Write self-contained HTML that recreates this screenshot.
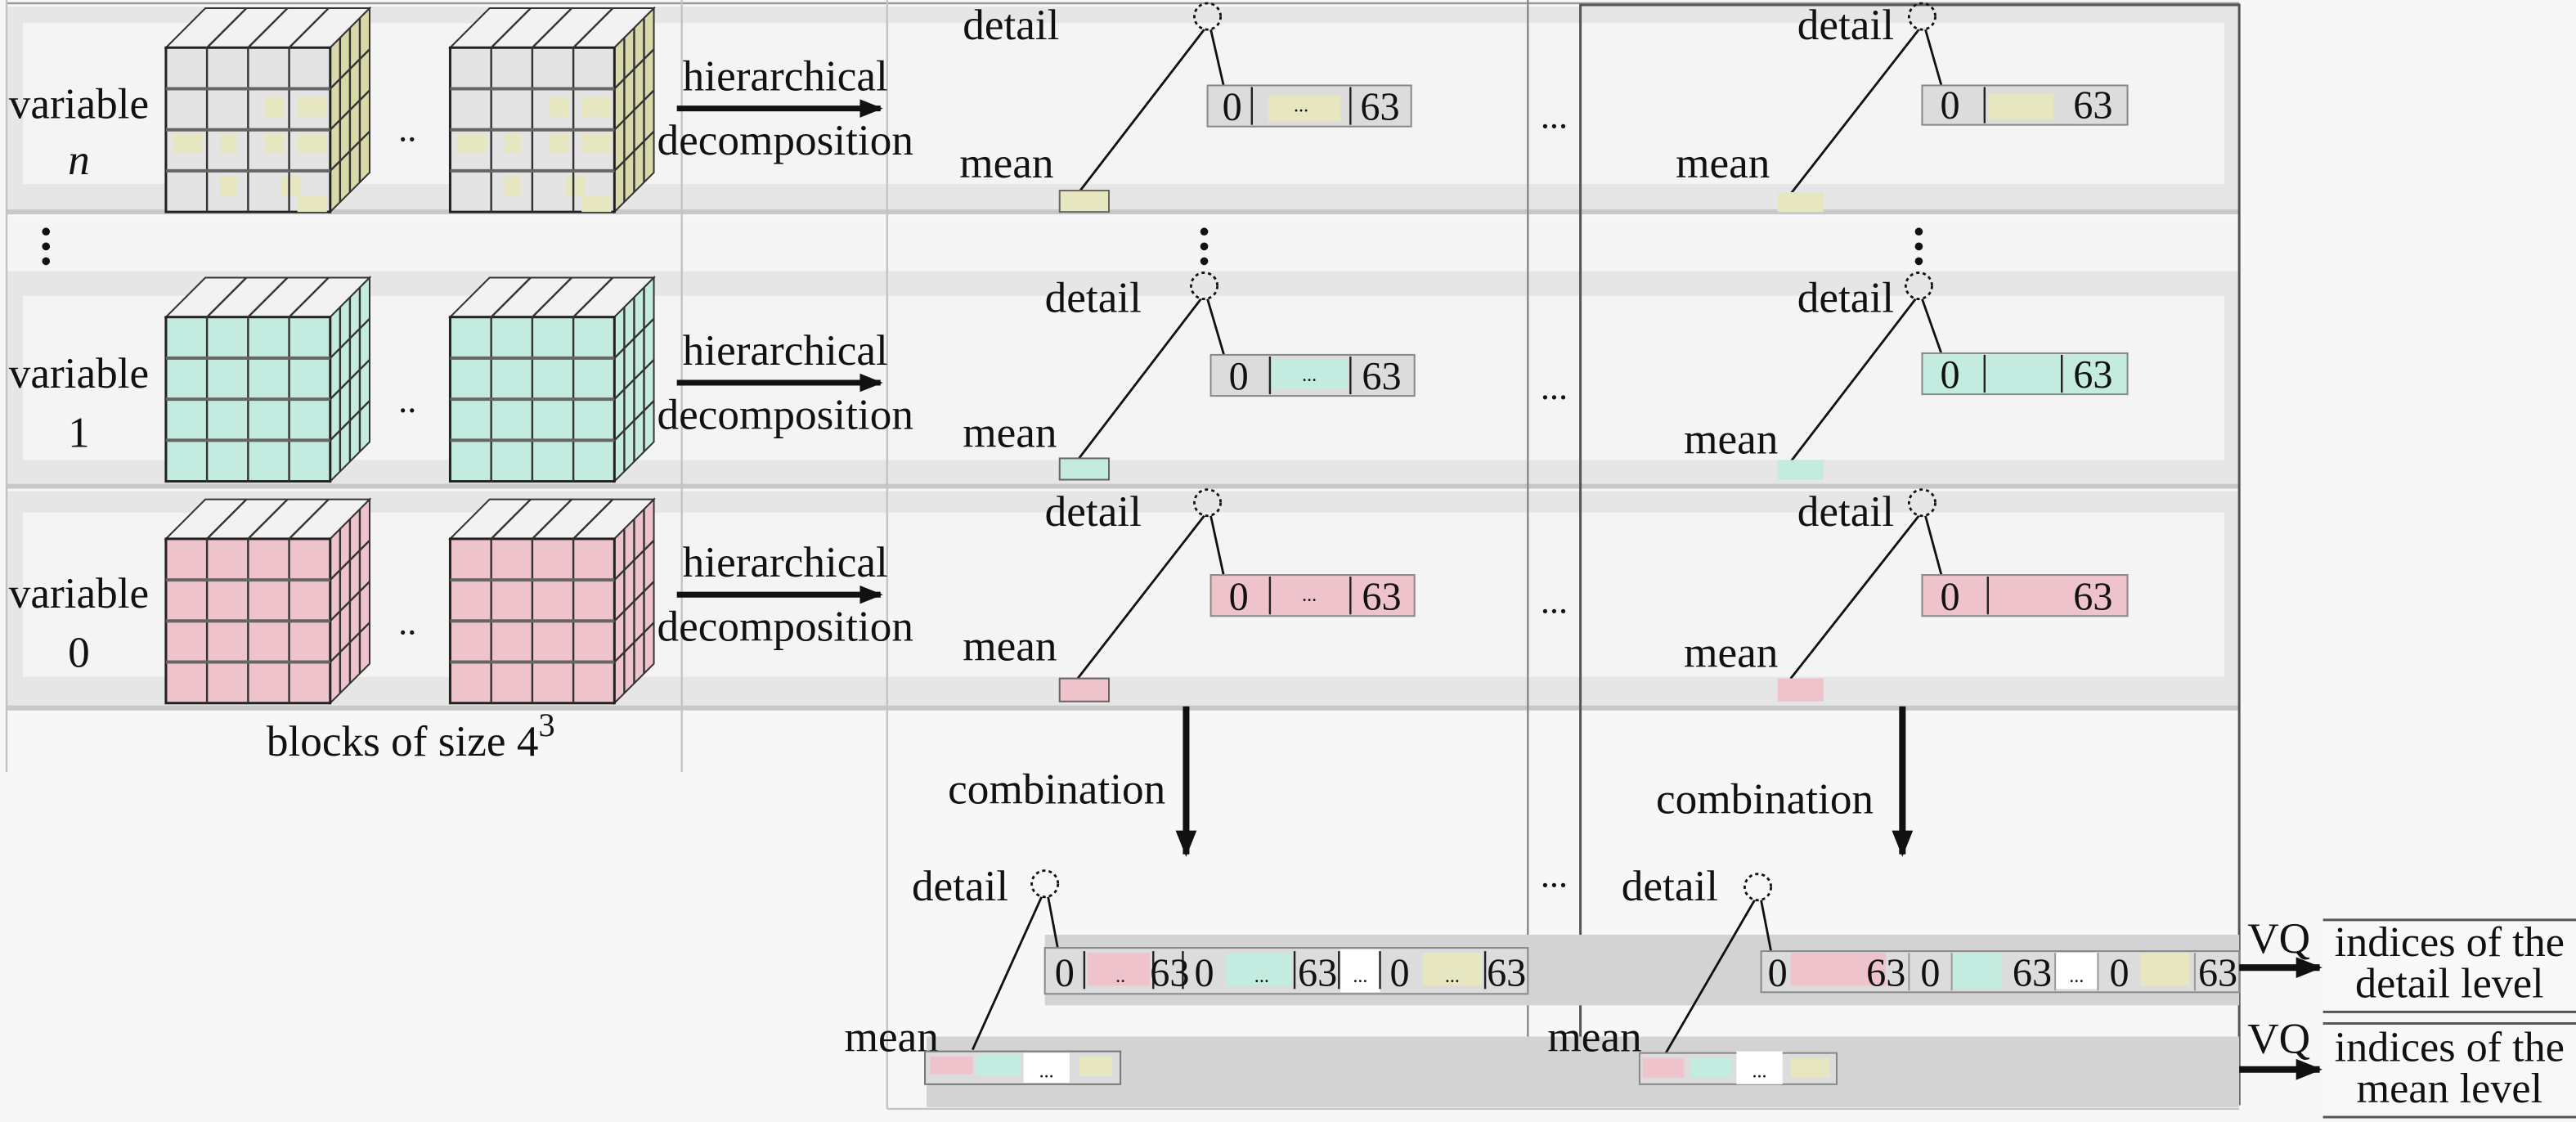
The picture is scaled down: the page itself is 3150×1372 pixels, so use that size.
<!DOCTYPE html>
<html><head><meta charset="utf-8"><style>
html,body{margin:0;padding:0;background:#f7f7f7}
svg{display:block}
text{font-family:"Liberation Serif",serif;fill:#111}
</style></head><body>
<svg width="3150" height="1372" viewBox="0 0 1568 683" preserveAspectRatio="none" xmlns="http://www.w3.org/2000/svg">
<defs>
<marker id="ah" viewBox="0 0 10 10" refX="9" refY="5" markerWidth="4" markerHeight="4" orient="auto"><path d="M0,1 L10,5 L0,9 z" fill="#111"/></marker>
<symbol id="cubeC" overflow="visible">
 <polygon points="0,0 24,-24 124,-24 100,0" fill="#f2f2f2" stroke="#333" stroke-width="1"/>
 <polygon points="100,0 124,-24 124,76 100,100" fill="currentColor" stroke="#333" stroke-width="1"/>
 <rect x="0" y="0" width="100" height="100" fill="currentColor" stroke="#222" stroke-width="1.5"/>
 <g stroke="#333" stroke-width="1.2" fill="none">
  <line x1="25" y1="0" x2="25" y2="100"/><line x1="50" y1="0" x2="50" y2="100"/><line x1="75" y1="0" x2="75" y2="100"/>
  <line x1="0" y1="25" x2="100" y2="25" stroke="#666" stroke-width="2"/><line x1="0" y1="50" x2="100" y2="50" stroke="#666" stroke-width="2"/><line x1="0" y1="75" x2="100" y2="75" stroke="#666" stroke-width="2"/>
  <line x1="25" y1="0" x2="49" y2="-24"/><line x1="50" y1="0" x2="74" y2="-24"/><line x1="75" y1="0" x2="99" y2="-24"/>
  <line x1="106" y1="-6" x2="106" y2="94"/><line x1="112" y1="-12" x2="112" y2="88"/><line x1="118" y1="-18" x2="118" y2="82"/>
  <line x1="100" y1="25" x2="124" y2="1"/><line x1="100" y1="50" x2="124" y2="26"/><line x1="100" y1="75" x2="124" y2="51"/>
 </g>
</symbol>
<symbol id="cubeN" overflow="visible">
 <polygon points="0,0 24,-24 124,-24 100,0" fill="#f2f2f2" stroke="#333" stroke-width="1"/>
 <polygon points="100,0 124,-24 124,76 100,100" fill="#d8d8a8" stroke="#333" stroke-width="1"/>
 <rect x="0" y="0" width="100" height="100" fill="#e4e4e4" stroke="#222" stroke-width="1.5"/>
 <g fill="#e6e6c0"><rect x="60" y="30" width="12" height="12"/><rect x="80" y="30" width="18" height="12"/><rect x="4" y="52" width="18" height="12"/><rect x="33" y="52" width="10" height="12"/><rect x="60" y="52" width="12" height="12"/><rect x="80" y="52" width="18" height="12"/><rect x="33" y="78" width="10" height="12"/><rect x="70" y="78" width="12" height="12"/><rect x="80" y="90" width="18" height="10"/></g>
 <g stroke="#333" stroke-width="1.2" fill="none">
  <line x1="25" y1="0" x2="25" y2="100"/><line x1="50" y1="0" x2="50" y2="100"/><line x1="75" y1="0" x2="75" y2="100"/>
  <line x1="0" y1="25" x2="100" y2="25" stroke="#666" stroke-width="2"/><line x1="0" y1="50" x2="100" y2="50" stroke="#666" stroke-width="2"/><line x1="0" y1="75" x2="100" y2="75" stroke="#666" stroke-width="2"/>
  <line x1="25" y1="0" x2="49" y2="-24"/><line x1="50" y1="0" x2="74" y2="-24"/><line x1="75" y1="0" x2="99" y2="-24"/>
  <line x1="106" y1="-6" x2="106" y2="94"/><line x1="112" y1="-12" x2="112" y2="88"/><line x1="118" y1="-18" x2="118" y2="82"/>
  <line x1="100" y1="25" x2="124" y2="1"/><line x1="100" y1="50" x2="124" y2="26"/><line x1="100" y1="75" x2="124" y2="51"/>
 </g>
</symbol>
</defs>

<rect x="0" y="0" width="1568" height="683" fill="#f7f7f7"/>

<g>
 <rect x="4" y="4" width="1359" height="126" fill="#e6e6e6"/>
 <rect x="14" y="14" width="1340" height="98" fill="#f4f4f4"/>
 <line x1="4" y1="129" x2="1363" y2="129" stroke="#c8c8c8" stroke-width="3"/>
 <rect x="4" y="132" width="1359" height="33" fill="#f5f5f5"/>
 <rect x="4" y="165" width="1359" height="130" fill="#e6e6e6"/>
 <rect x="14" y="180" width="1340" height="100" fill="#f4f4f4"/>
 <line x1="4" y1="296" x2="1363" y2="296" stroke="#c8c8c8" stroke-width="3"/>
 <rect x="4" y="299" width="1359" height="131" fill="#e6e6e6"/>
 <rect x="14" y="312" width="1340" height="100" fill="#f4f4f4"/>
 <line x1="4" y1="431" x2="1363" y2="431" stroke="#c8c8c8" stroke-width="3"/>
</g>

<g stroke="#c4c4c4" stroke-width="1.2">
 <line x1="4" y1="2" x2="1363" y2="2" stroke="#999"/>
 <line x1="4" y1="0" x2="4" y2="470"/>
 <line x1="415" y1="0" x2="415" y2="470"/>
 <line x1="540" y1="0" x2="540" y2="675"/>
 <line x1="540" y1="675" x2="1363" y2="675"/>
</g>
<line x1="930" y1="0" x2="930" y2="672" stroke="#888" stroke-width="1.2"/>
<rect x="962" y="3" width="401" height="669" fill="none" stroke="#555" stroke-width="1.5"/>

<g font-size="26.5" text-anchor="middle">
 <text x="48" y="72">variable</text><text x="48" y="106" font-style="italic">n</text>
 <text x="48" y="236">variable</text><text x="48" y="272">1</text>
 <text x="48" y="370">variable</text><text x="48" y="406">0</text>
 <text x="250" y="460">blocks of size 4<tspan font-size="20" dy="-12">3</tspan></text>
</g>
<g fill="#111">
 <circle cx="28" cy="141" r="2.4"/><circle cx="28" cy="150" r="2.4"/><circle cx="28" cy="159" r="2.4"/>
 <circle cx="733" cy="141" r="2.4"/><circle cx="733" cy="150" r="2.4"/><circle cx="733" cy="159" r="2.4"/>
 <circle cx="1168" cy="141" r="2.4"/><circle cx="1168" cy="150" r="2.4"/><circle cx="1168" cy="159" r="2.4"/>
</g>

<use href="#cubeN" x="101" y="29"/><use href="#cubeN" x="274" y="29"/>
<use href="#cubeC" x="101" y="193" style="color:#c4ebdf"/><use href="#cubeC" x="274" y="193" style="color:#c4ebdf"/>
<use href="#cubeC" x="101" y="328" style="color:#efc3cc"/><use href="#cubeC" x="274" y="328" style="color:#efc3cc"/>
<g font-size="22" text-anchor="middle">
 <text x="248" y="86">..</text><text x="248" y="251">..</text><text x="248" y="386">..</text>
</g>

<g font-size="26.5" text-anchor="middle">
 <text x="478" y="55">hierarchical</text><text x="478" y="94">decomposition</text>
 <text x="478" y="222">hierarchical</text><text x="478" y="261">decomposition</text>
 <text x="478" y="351">hierarchical</text><text x="478" y="390">decomposition</text>
</g>
<g stroke="#111" stroke-width="3.5" marker-end="url(#ah)">
 <line x1="412" y1="66" x2="536" y2="66"/>
 <line x1="412" y1="233" x2="536" y2="233"/>
 <line x1="412" y1="362" x2="536" y2="362"/>
</g>

<g font-size="22" text-anchor="middle">
 <text x="946" y="78">...</text><text x="946" y="243">...</text><text x="946" y="373">...</text><text x="946" y="540">...</text>
</g>

<g font-size="26.5">
 <text x="586" y="24">detail</text><text x="584" y="108">mean</text>
 <text x="636" y="190">detail</text><text x="586" y="272">mean</text>
 <text x="636" y="320">detail</text><text x="586" y="402">mean</text>
 <text x="1094" y="24">detail</text><text x="1020" y="108">mean</text>
 <text x="1094" y="190">detail</text><text x="1025" y="276">mean</text>
 <text x="1094" y="320">detail</text><text x="1025" y="406">mean</text>
</g>
<g fill="none" stroke="#111" stroke-width="1.4">
 <circle cx="735" cy="10" r="8" stroke-dasharray="2,2"/><line x1="733" y1="18" x2="656" y2="118"/><line x1="737" y1="18" x2="745" y2="53"/>
 <circle cx="733" cy="174" r="8" stroke-dasharray="2,2"/><line x1="731" y1="182" x2="656" y2="280"/><line x1="735" y1="182" x2="745" y2="216"/>
 <circle cx="735" cy="306" r="8" stroke-dasharray="2,2"/><line x1="733" y1="314" x2="656" y2="413"/><line x1="737" y1="314" x2="745" y2="351"/>
 <circle cx="1170" cy="10" r="8" stroke-dasharray="2,2"/><line x1="1168" y1="18" x2="1090" y2="118"/><line x1="1172" y1="18" x2="1182" y2="53"/>
 <circle cx="1168" cy="174" r="8" stroke-dasharray="2,2"/><line x1="1166" y1="182" x2="1090" y2="281"/><line x1="1170" y1="182" x2="1182" y2="216"/>
 <circle cx="1170" cy="306" r="8" stroke-dasharray="2,2"/><line x1="1168" y1="314" x2="1090" y2="413"/><line x1="1172" y1="314" x2="1182" y2="351"/>
</g>
<g stroke="#666" stroke-width="1">
 <rect x="645" y="116" width="30" height="13" fill="#e6e6c0"/>
 <rect x="645" y="279" width="30" height="13" fill="#c4ebdf"/>
 <rect x="645" y="413" width="30" height="14" fill="#efc3cc"/>
 <rect x="1082" y="117" width="28" height="12" fill="#e6e6c0" stroke="none"/>
 <rect x="1082" y="280" width="28" height="12" fill="#c4ebdf" stroke="none"/>
 <rect x="1082" y="413" width="28" height="14" fill="#efc3cc" stroke="none"/>
</g>
<g>
 <rect x="735" y="52" width="124" height="25" fill="#dcdcdc" stroke="#888"/>
 <rect x="737" y="216" width="124" height="25" fill="#dcdcdc" stroke="#888"/>
 <rect x="737" y="350" width="124" height="25" fill="#efc3cc" stroke="#888"/>
 <rect x="1170" y="52" width="125" height="24" fill="#dcdcdc" stroke="#888"/>
 <rect x="1170" y="215" width="125" height="25" fill="#c4ebdf" stroke="#888"/>
 <rect x="1170" y="350" width="125" height="25" fill="#efc3cc" stroke="#888"/>
 <rect x="772" y="58" width="44" height="16" fill="#e6e6c0"/>
 <rect x="772" y="219" width="48" height="18" fill="#c4ebdf"/>
 <rect x="1210" y="57" width="40" height="16" fill="#e6e6c0"/>
</g>
<g stroke="#222" stroke-width="1.2">
 <line x1="762" y1="53" x2="762" y2="76"/><line x1="822" y1="53" x2="822" y2="76"/>
 <line x1="773" y1="217" x2="773" y2="240"/><line x1="822" y1="217" x2="822" y2="240"/>
 <line x1="773" y1="351" x2="773" y2="374"/><line x1="822" y1="351" x2="822" y2="374"/>
 <line x1="1208" y1="53" x2="1208" y2="75"/>
 <line x1="1208" y1="216" x2="1208" y2="239"/><line x1="1255" y1="216" x2="1255" y2="239"/>
 <line x1="1210" y1="351" x2="1210" y2="374"/>
</g>
<g font-size="24" text-anchor="middle">
 <text x="750" y="73">0</text><text x="792" y="68" font-size="12">...</text><text x="840" y="73">63</text>
 <text x="754" y="237">0</text><text x="797" y="232" font-size="12">...</text><text x="841" y="237">63</text>
 <text x="754" y="371">0</text><text x="797" y="366" font-size="12">...</text><text x="841" y="371">63</text>
 <text x="1187" y="72">0</text><text x="1274" y="72">63</text>
 <text x="1187" y="236">0</text><text x="1274" y="236">63</text>
 <text x="1187" y="371">0</text><text x="1274" y="371">63</text>
</g>

<g stroke="#111" stroke-width="4" marker-end="url(#ah)">
 <line x1="722" y1="430" x2="722" y2="520"/>
 <line x1="1158" y1="430" x2="1158" y2="520"/>
</g>
<g font-size="26.5">
 <text x="577" y="489">combination</text>
 <text x="1008" y="495">combination</text>
</g>

<rect x="636" y="569" width="727" height="43" fill="#d3d3d3"/>
<rect x="564" y="631" width="799" height="43" fill="#d3d3d3"/>

<g font-size="26.5">
 <text x="555" y="548">detail</text><text x="514" y="640">mean</text>
 <text x="987" y="548">detail</text><text x="942" y="640">mean</text>
</g>
<g fill="none" stroke="#111" stroke-width="1.4">
 <circle cx="636" cy="538" r="8" stroke-dasharray="2,2"/><line x1="634" y1="546" x2="592" y2="639"/><line x1="638" y1="546" x2="644" y2="578"/>
 <circle cx="1070" cy="540" r="8" stroke-dasharray="2,2"/><line x1="1068" y1="548" x2="1014" y2="641"/><line x1="1072" y1="548" x2="1078" y2="579"/>
</g>
<g>
 <rect x="636" y="577" width="294" height="28" fill="#dcdcdc" stroke="#888"/>
 <rect x="662" y="580" width="38" height="20" fill="#efc3cc"/>
 <rect x="746" y="580" width="40" height="20" fill="#c4ebdf"/>
 <rect x="816" y="578" width="24" height="26" fill="#ffffff"/>
 <rect x="866" y="580" width="36" height="20" fill="#e6e6c0"/>
 <rect x="1072" y="579" width="291" height="25" fill="#dcdcdc" stroke="#888"/>
 <rect x="1090" y="580" width="58" height="20" fill="#efc3cc"/>
 <rect x="1188" y="580" width="30" height="22" fill="#c4ebdf"/>
 <rect x="1251" y="580" width="26" height="22" fill="#ffffff"/>
 <rect x="1303" y="580" width="30" height="20" fill="#e6e6c0"/>
</g>
<g stroke="#222" stroke-width="1.2">
 <line x1="660" y1="579" x2="660" y2="602"/><line x1="702" y1="579" x2="702" y2="602"/><line x1="720" y1="579" x2="720" y2="602"/>
 <line x1="788" y1="579" x2="788" y2="602"/><line x1="815" y1="579" x2="815" y2="602"/><line x1="840" y1="579" x2="840" y2="602"/>
 <line x1="904" y1="579" x2="904" y2="602"/>
</g>
<g stroke="#999" stroke-width="1">
 <line x1="1162" y1="580" x2="1162" y2="603"/><line x1="1188" y1="580" x2="1188" y2="603"/><line x1="1251" y1="580" x2="1251" y2="603"/><line x1="1277" y1="580" x2="1277" y2="603"/><line x1="1336" y1="580" x2="1336" y2="603"/>
</g>
<g font-size="24" text-anchor="middle">
 <text x="648" y="600">0</text><text x="682" y="598" font-size="12">..</text><text x="712" y="600">63</text>
 <text x="733" y="600">0</text><text x="768" y="598" font-size="12">...</text><text x="802" y="600">63</text>
 <text x="828" y="598" font-size="12">...</text>
 <text x="852" y="600">0</text><text x="884" y="598" font-size="12">...</text><text x="917" y="600">63</text>
 <text x="1082" y="600">0</text><text x="1148" y="600">63</text>
 <text x="1175" y="600">0</text><text x="1237" y="600">63</text>
 <text x="1264" y="598" font-size="12">...</text>
 <text x="1290" y="600">0</text><text x="1350" y="600">63</text>
</g>
<g>
 <rect x="563" y="640" width="119" height="20" fill="#dcdcdc" stroke="#777"/>
 <rect x="566" y="643" width="26" height="11" fill="#efc3cc"/>
 <rect x="594" y="642" width="27" height="13" fill="#c4ebdf"/>
 <rect x="623" y="641" width="28" height="18" fill="#ffffff"/>
 <rect x="657" y="643" width="20" height="12" fill="#e6e6c0"/>
 <text x="637" y="656" font-size="12" text-anchor="middle">...</text>
 <rect x="998" y="641" width="120" height="19" fill="#dcdcdc" stroke="#888"/>
 <rect x="1000" y="644" width="25" height="12" fill="#efc3cc"/>
 <rect x="1029" y="644" width="25" height="12" fill="#c4ebdf"/>
 <rect x="1057" y="640" width="28" height="20" fill="#ffffff"/>
 <rect x="1090" y="644" width="24" height="12" fill="#e6e6c0"/>
 <text x="1071" y="656" font-size="12" text-anchor="middle">...</text>
</g>

<g stroke="#111" stroke-width="4" marker-end="url(#ah)">
 <line x1="1363" y1="589" x2="1412" y2="589"/>
 <line x1="1363" y1="651" x2="1412" y2="651"/>
</g>
<g font-size="26.5">
 <text x="1368" y="580">VQ</text>
 <text x="1368" y="641">VQ</text>
</g>
<rect x="1414" y="560" width="154" height="56" fill="#f8f8f8"/>
<rect x="1414" y="623" width="154" height="57" fill="#f8f8f8"/>
<g stroke="#555" stroke-width="1.5">
 <line x1="1414" y1="560" x2="1568" y2="560"/><line x1="1414" y1="616" x2="1568" y2="616"/>
 <line x1="1414" y1="623" x2="1568" y2="623"/><line x1="1414" y1="680" x2="1568" y2="680"/>
</g>
<g font-size="26" text-anchor="middle">
 <text x="1491" y="582">indices of the</text><text x="1491" y="607">detail level</text>
 <text x="1491" y="646">indices of the</text><text x="1491" y="671">mean level</text>
</g>
</svg>
</body></html>
